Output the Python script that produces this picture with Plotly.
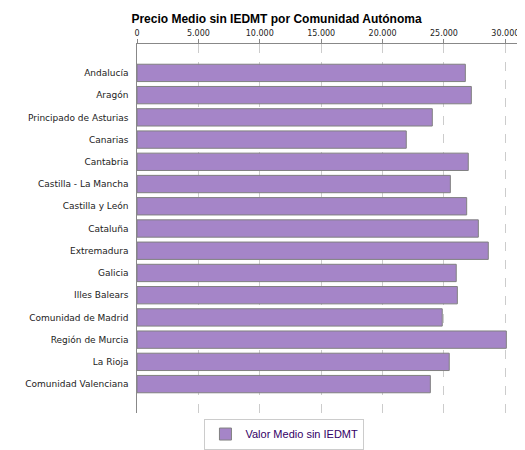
import plotly.graph_objects as go

comunidades = ['Andalucía', 'Aragón', 'Principado de Asturias', 'Canarias', 'Cantabria',
               'Castilla - La Mancha', 'Castilla y León', 'Cataluña', 'Extremadura', 'Galicia',
               'Illes Balears', 'Comunidad de Madrid', 'Región de Murcia', 'La Rioja',
               'Comunidad Valenciana']
valores = [26740, 27230, 24050, 21930, 26980, 25520, 26850, 27800, 28610, 26000,
           26090, 24860, 30080, 25430, 23890]
ticks = [0, 5000, 10000, 15000, 20000, 25000, 30000]
tick_text = ['0', '5.000', '10.000', '15.000', '20.000', '25.000', '30.000']

fig = go.Figure()
fig.add_trace(go.Bar(x=valores, y=comunidades, orientation='h', name='Valor Medio sin IEDMT',
                     marker=dict(color='#A585C8', line=dict(color='#808080', width=1)),
                     width=0.78, showlegend=True))

fig.update_layout(
    width=525, height=450,
    margin=dict(l=129, r=8, t=36, b=27),
    paper_bgcolor='white', plot_bgcolor='white',
    font=dict(family='DejaVu Sans', size=9, color='#222222'),
    title=dict(text='<b>Precio Medio sin IEDMT por Comunidad Autónoma</b>', x=0.235, xanchor='left',
               y=0.985, yanchor='top', font=dict(family='Liberation Sans', size=12, color='black')),
    legend=dict(orientation='h', x=0.38, xanchor='center', y=-0.015, yanchor='top',
                bordercolor='#cccccc', borderwidth=1,
                font=dict(family='Liberation Sans', size=11, color='#330066')),
    bargap=0.22,
)
fig.update_xaxes(side='top', range=[0, 31600], tickvals=ticks, ticktext=tick_text,
                 showgrid=True, gridcolor='#cccccc', griddash='dash', zeroline=False,
                 showline=True, linecolor='#888888', ticks='outside', ticklen=4, tickcolor='#888888',
                 tickfont=dict(size=8))
fig.update_yaxes(autorange='reversed', range=[-0.9, 14.9], showline=True, linecolor='#888888',
                 ticks='', ticksuffix='  ', tickfont=dict(size=9, family='DejaVu Sans'))
fig.update_yaxes(autorange=False, range=[15.3, -1.3])

fig.write_html('out.html')
